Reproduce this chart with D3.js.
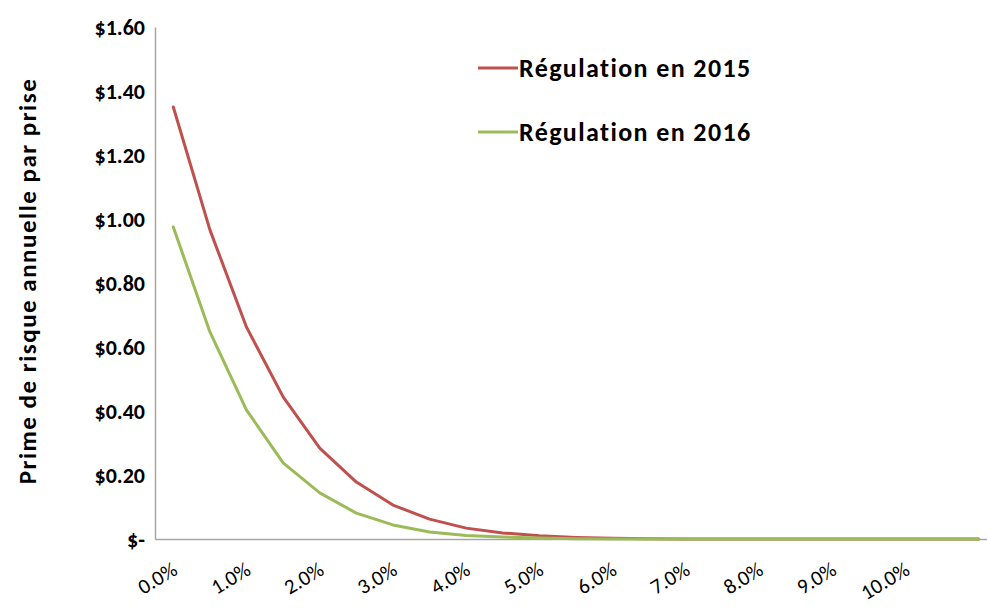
<!DOCTYPE html>
<html>
<head>
<meta charset="utf-8">
<script src="https://cdn.jsdelivr.net/npm/d3@7"></script>
<style>
  body { margin: 0; background: #fff; }
  svg text { font-family: Calibri, Carlito, Lato, sans-serif; }
</style>
</head>
<body>
<div id="container"></div>
<script>
// taux (catégories tous les 0,5 %)
const rates = ['0.0%', '0.5%', '1.0%', '1.5%', '2.0%', '2.5%', '3.0%', '3.5%', '4.0%', '4.5%', '5.0%', '5.5%',
    '6.0%', '6.5%', '7.0%', '7.5%', '8.0%', '8.5%', '9.0%', '9.5%', '10.0%', '10.5%', '11.0%']
const shownLabels = ['0.0%', '1.0%', '2.0%', '3.0%', '4.0%', '5.0%', '6.0%', '7.0%', '8.0%', '9.0%', '10.0%']

const reg2015 = [1.35, 0.966, 0.662, 0.444, 0.284, 0.178, 0.106, 0.062, 0.034, 0.019, 0.010, 0.005,
    0.002, 0.001, 0, 0, 0, 0, 0, 0, 0, 0, 0]
const reg2016 = [0.975, 0.647, 0.403, 0.238, 0.144, 0.081, 0.044, 0.022, 0.011, 0.006, 0.003, 0.001,
    0, 0, 0, 0, 0, 0, 0, 0, 0, 0, 0]

const yTicks = [0, 0.2, 0.4, 0.6, 0.8, 1.0, 1.2, 1.4, 1.6]

const series = [
    { name: 'Régulation en 2015', values: reg2015, color: '#C0504D' },
    { name: 'Régulation en 2016', values: reg2016, color: '#9BBB59' }
]

const width = 987
const height = 608
const margin = { top: 27, right: -10, bottom: 69, left: 155 }

const svg = d3.select('#container')
    .append('svg')
    .attr('width', width)
    .attr('height', height)

const xScale = d3.scaleBand()
    .domain(rates)
    .range([margin.left, width - margin.right])

const yScale = d3.scaleLinear()
    .domain([0, 1.6])
    .range([height - margin.bottom, margin.top])

// axe y
const yAxis = d3.axisLeft(yScale)
    .tickValues(yTicks)
    .tickSize(0)
    .tickPadding(10)
    .tickFormat(d => d === 0 ? '$-' : '$' + d3.format('.2f')(d))
svg.append('g')
    .attr('transform', `translate(${margin.left}, 0)`)
    .call(yAxis)
    .call(g => g.select('.domain').attr('stroke', '#a6a6a6').attr('stroke-width', 1.5))
    .call(g => g.selectAll('text')
        .attr('font-size', 22)
        .attr('font-weight', 'bold')
        .attr('fill', '#000'))

// axe x
const xAxis = d3.axisBottom(xScale)
    .tickValues(shownLabels)
    .tickSize(0)
svg.append('g')
    .attr('transform', `translate(0, ${height - margin.bottom})`)
    .call(xAxis)
    .call(g => g.select('.domain').attr('stroke', '#a6a6a6').attr('stroke-width', 1.5))
    .call(g => g.selectAll('text')
        .attr('font-size', 21)
        .attr('fill', '#000')
        .attr('text-anchor', 'end')
        .attr('transform', 'translate(4, 32) rotate(-31)')
        .attr('dy', 0))

// titre de l'axe y
svg.append('text')
    .attr('transform', `translate(36, ${(margin.top + height - margin.bottom) / 2 - 2}) rotate(-90)`)
    .attr('text-anchor', 'middle')
    .attr('font-size', 25)
    .attr('font-weight', 'bold')
    .attr('letter-spacing', 1.5)
    .text('Prime de risque annuelle par prise')

// courbes
const line = d3.line()
    .x((d, i) => xScale(rates[i]) + xScale.bandwidth() / 2)
    .y(d => yScale(d))

series.forEach(s => {
    svg.append('path')
        .datum(s.values)
        .attr('fill', 'none')
        .attr('stroke', s.color)
        .attr('stroke-width', 3)
        .attr('stroke-linejoin', 'round')
        .attr('stroke-linecap', 'round')
        .attr('d', line)
})

// légende
const legend = svg.append('g')
    .attr('transform', 'translate(478, 68)')

series.forEach((s, i) => {
    const item = legend.append('g')
        .attr('transform', `translate(0, ${i * 64})`)
    item.append('line')
        .attr('x1', 0)
        .attr('x2', 40)
        .attr('stroke', s.color)
        .attr('stroke-width', 3)
    item.append('text')
        .attr('x', 41)
        .attr('y', 9)
        .attr('font-size', 26)
        .attr('font-weight', 'bold')
        .attr('letter-spacing', 1.4)
        .text(s.name)
})
</script>
</body>
</html>
